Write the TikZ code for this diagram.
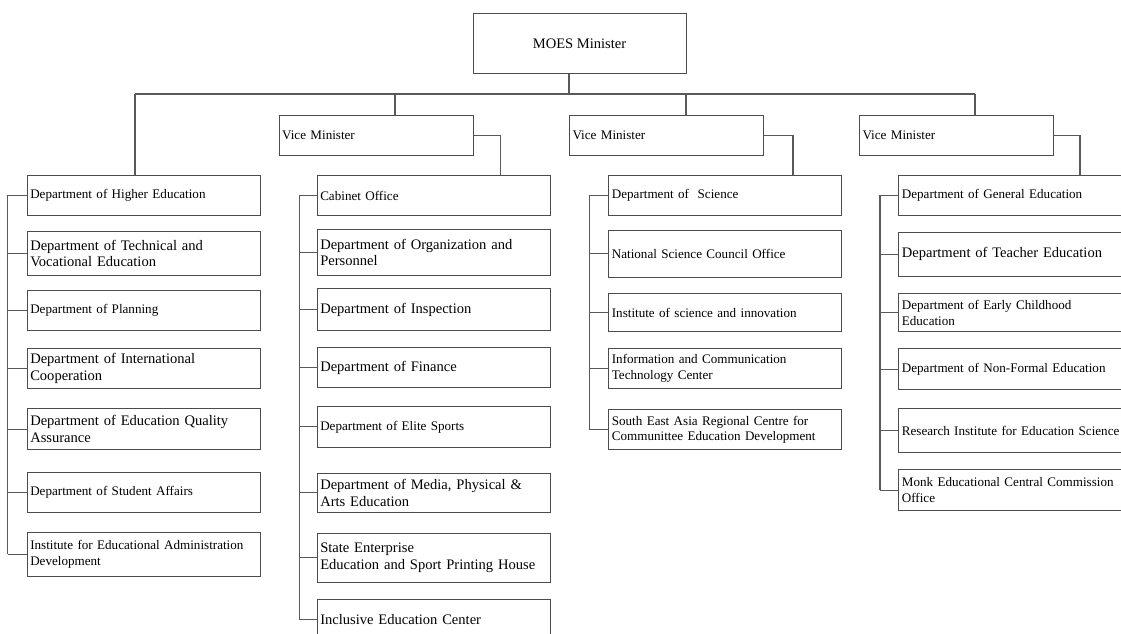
\documentclass[tikz,border=0pt]{standalone}
\usepackage{fontspec}
\setmainfont{Liberation Serif}
\usetikzlibrary{calc}
\newcommand\fsS{\fontsize{13.1}{15.7}\selectfont}
\newcommand\fsL{\fontsize{14.55}{16.5}\selectfont}
\tikzset{
  orgbox/.style={draw=black!70, line width=1.1pt, rectangle, anchor=north west,
    inner xsep=3pt, inner ysep=0pt, align=left, text width=227pt,
    minimum height=#1, font=\fsS},
  vbox/.style={draw=black!70, line width=1.1pt, rectangle, anchor=north west,
    inner xsep=3pt, inner ysep=0pt, align=left, text width=188pt,
    minimum height=40pt, font=\fsS},
  mbox/.style={draw=black!70, line width=1.1pt, rectangle, anchor=north west,
    inner sep=0pt, minimum width=213pt, minimum height=60pt, font=\fsL},
  conn/.style={draw=black!65, line width=1.1pt},
}
\begin{document}
\begin{tikzpicture}[x=1pt,y=-1pt]
\useasboundingbox (0,0) rectangle (1121,633);
\clip (0,0) rectangle (1121,633);

% minister and vice ministers
\node[mbox] (m) at (472.5,13) {MOES Minister};
\node[vbox] (v1) at (278.6,115) {Vice Minister};
\node[vbox] (v2) at (569,115) {Vice Minister};
\node[vbox] (v3) at (859,115) {Vice Minister};

% column 1
\node[orgbox=40pt] (c1a) at (26.7,175) {Department of Higher Education};
\node[orgbox=44.3pt, font=\fsL] (c1b) at (26.7,230.7) {Department of Technical and\\Vocational Education};
\node[orgbox=40pt] (c1c) at (26.7,290) {Department of Planning};
\node[orgbox=40.3pt, font=\fsL] (c1d) at (26.7,347.7) {Department of International\\Cooperation};
\node[orgbox=41pt, font=\fsL] (c1e) at (26.7,408) {Department of Education Quality\\Assurance};
\node[orgbox=40pt] (c1f) at (26.7,472) {Department of Student Affairs};
\node[orgbox=44.3pt] (c1g) at (26.7,531.7) {Institute for Educational Administration\\Development};

% column 2
\node[orgbox=40pt] (c2a) at (316.7,175) {Cabinet Office};
\node[orgbox=46pt, font=\fsL] (c2b) at (316.7,229) {Department of Organization and\\Personnel};
\node[orgbox=42pt, font=\fsL] (c2c) at (316.7,288) {Department of Inspection};
\node[orgbox=40pt, font=\fsL] (c2d) at (316.7,347) {Department of Finance};
\node[orgbox=41.3pt] (c2e) at (316.7,405.7) {Department of Elite Sports};
\node[orgbox=38.7pt, font=\fsL] (c2f) at (316.7,473) {Department of Media, Physical \&\\Arts Education};
\node[orgbox=49.3pt, font=\fsL] (c2g) at (316.7,532.7) {State Enterprise\\Education and Sport Printing House};
\node[orgbox=40pt, font=\fsL] (c2h) at (316.7,599.3) {Inclusive Education Center};

% column 3
\node[orgbox=40pt] (c3a) at (608.3,175) {Department of~ Science};
\node[orgbox=46.7pt] (c3b) at (608.3,230) {National Science Council Office};
\node[orgbox=37.4pt] (c3c) at (608.3,293.3) {Institute of science and innovation};
\node[orgbox=40.6pt] (c3d) at (608.3,347.7) {Information and Communication\\Technology Center};
\node[orgbox=40.3pt] (c3e) at (608.3,409) {South East Asia Regional Centre for\\Communittee Education Development};

% column 4
\node[orgbox=40pt] (c4a) at (898.3,175) {Department of General Education};
\node[orgbox=44pt, font=\fsL] (c4b) at (898.3,231.7) {Department of Teacher Education};
\node[orgbox=37.7pt] (c4c) at (898.3,293.3) {Department of Early Childhood\\Education};
\node[orgbox=40.7pt] (c4d) at (898.3,348.3) {Department of Non-Formal Education};
\node[orgbox=43.4pt] (c4e) at (898.3,408.3) {Research Institute for Education Science};
\node[orgbox=40.7pt] (c4f) at (898.3,469.3) {Monk Educational Central Commission\\Office};

% top connectors
\coordinate (busL) at (135,94);
\coordinate (busR) at (975,94);
\coordinate (d1) at (395,94);
\coordinate (d2) at (686,94);
\draw[conn] (m.south -| v2.west) -- (v2.west |- busL);
\draw[conn] (busL) -- (busR);
\draw[conn] (busL) -- (busL |- c1a.north);
\draw[conn] (d1) -- (d1 |- v1.north);
\draw[conn] (d2) -- (d2 |- v2.north);
\draw[conn] (busR) -- (busR |- v3.north);

% vice minister to first department
\coordinate (k1) at (500.7,0);
\coordinate (k2) at (793,0);
\coordinate (k3) at (1080,0);
\draw[conn] (v1.east) -| (k1 |- c2a.north);
\draw[conn] (v2.east) -| (k2 |- c3a.north);
\draw[conn] (v3.east) -| (k3 |- c4a.north);

% spines
\coordinate (s1) at (7.5,0);
\coordinate (s2) at (299.3,0);
\coordinate (s3) at (589.3,0);
\coordinate (s4) at (880,0);
\draw[conn] (c1a.west) -- (c1a.west -| s1) -- (c1g.west -| s1);
\foreach \n in {b,c,d,e,f,g} {\draw[conn] (c1\n.west) -- (c1\n.west -| s1);}
\draw[conn] (c2a.west) -- (c2a.west -| s2) -- (c2h.west -| s2);
\foreach \n in {b,c,d,e,f,g,h} {\draw[conn] (c2\n.west) -- (c2\n.west -| s2);}
\draw[conn] (c3a.west) -- (c3a.west -| s3) -- (c3e.west -| s3);
\foreach \n in {b,c,d,e} {\draw[conn] (c3\n.west) -- (c3\n.west -| s3);}
\draw[conn] (c4a.west) -- (c4a.west -| s4) -- (c4f.west -| s4);
\foreach \n in {b,c,d,e,f} {\draw[conn] (c4\n.west) -- (c4\n.west -| s4);}
\end{tikzpicture}
\end{document}
